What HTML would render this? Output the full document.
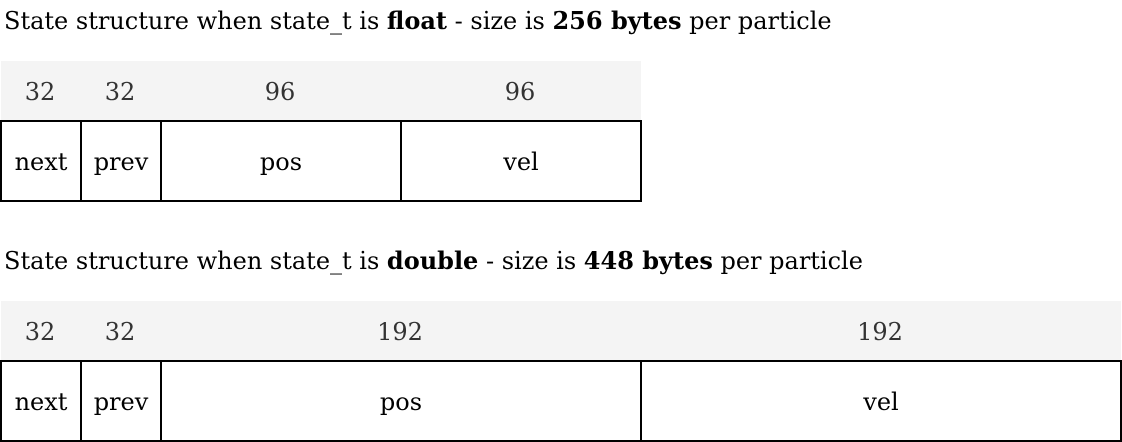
<!DOCTYPE html>
<html><head><meta charset="utf-8"><style>
body{margin:0;width:1122px;height:442px;background:#fff;position:relative;overflow:hidden;font-family:"DejaVu Serif","Liberation Serif",serif;}
.t{position:absolute;left:4px;font-size:24px;color:#000;white-space:nowrap;line-height:26px}
.h{position:absolute;background:#f4f4f4;height:60px}
.n{position:absolute;font-size:24px;color:#333;text-align:center;line-height:62px;height:60px}
.c{position:absolute;box-sizing:border-box;border:2px solid #000;height:82px;font-size:24px;text-align:center;line-height:80px}
</style></head><body>
<div class="t" style="top:8px">State structure when state_t is <b>float</b> - size is <b>256 bytes</b> per particle</div>
<div class="h" style="left:1px;top:61px;width:640px"></div>
<div class="n" style="left:0;top:61px;width:80px">32</div>
<div class="n" style="left:80px;top:61px;width:80px">32</div>
<div class="n" style="left:160px;top:61px;width:240px">96</div>
<div class="n" style="left:400px;top:61px;width:240px">96</div>
<div class="c" style="left:0;top:120px;width:82px">next</div>
<div class="c" style="left:80px;top:120px;width:82px">prev</div>
<div class="c" style="left:160px;top:120px;width:242px">pos</div>
<div class="c" style="left:400px;top:120px;width:242px">vel</div>

<div class="t" style="top:248px">State structure when state_t is <b>double</b> - size is <b>448 bytes</b> per particle</div>
<div class="h" style="left:1px;top:301px;width:1120px"></div>
<div class="n" style="left:0;top:301px;width:80px">32</div>
<div class="n" style="left:80px;top:301px;width:80px">32</div>
<div class="n" style="left:160px;top:301px;width:480px">192</div>
<div class="n" style="left:640px;top:301px;width:480px">192</div>
<div class="c" style="left:0;top:360px;width:82px">next</div>
<div class="c" style="left:80px;top:360px;width:82px">prev</div>
<div class="c" style="left:160px;top:360px;width:482px">pos</div>
<div class="c" style="left:640px;top:360px;width:482px">vel</div>
</body></html>
